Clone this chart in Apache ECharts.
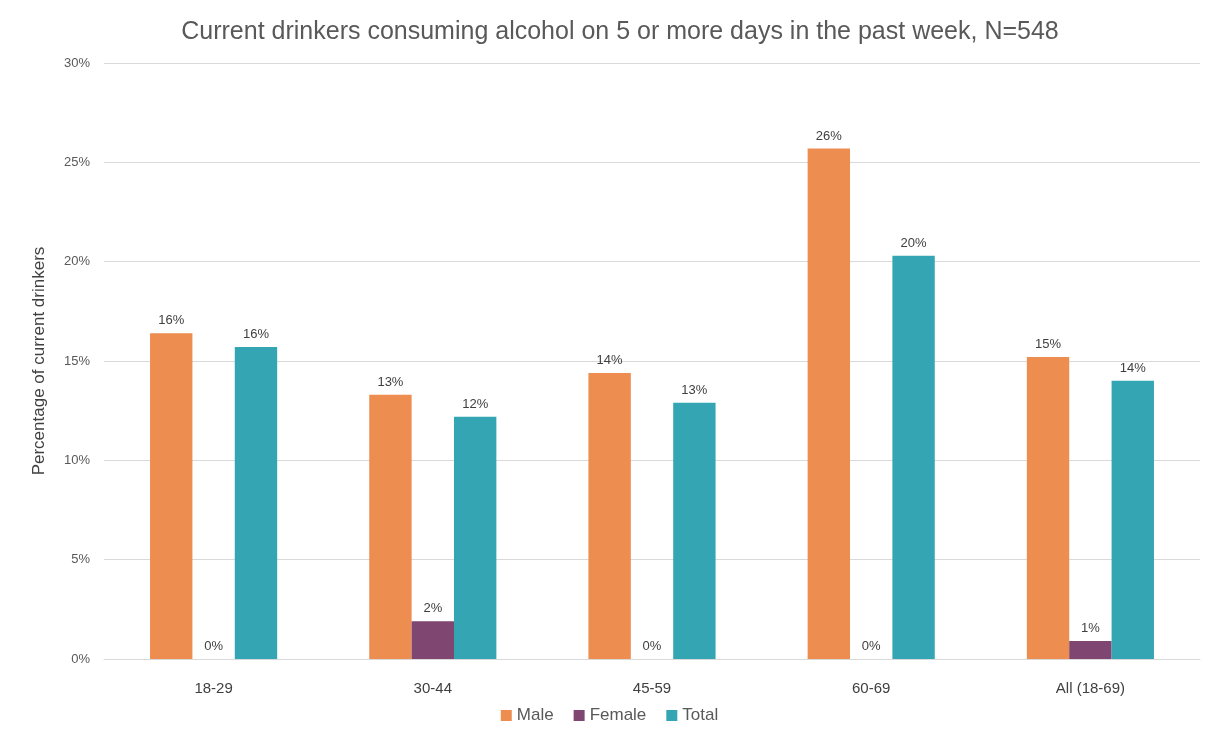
<!DOCTYPE html>
<html>
<head>
<meta charset="utf-8">
<script src="https://cdn.jsdelivr.net/npm/echarts@6/dist/echarts.min.js"></script>
<style>
  html, body { margin: 0; padding: 0; background: #fff; }
  #chart { width: 1219px; height: 739px; }
  .frame { position: absolute; left: 4px; top: 0; width: 2px; height: 739px; background: #d9d9d9; }
</style>
</head>
<body>
<div class="frame"></div>
<div id="chart"></div>
<script>
const ageGroups = ['18-29', '30-44', '45-59', '60-69', 'All (18-69)']
const maleValues = [16.4, 13.3, 14.4, 25.7, 15.2]
const femaleValues = [0, 1.9, 0, 0, 0.9]
const totalValues = [15.7, 12.2, 12.9, 20.3, 14.0]
const yTicks = [0, 5, 10, 15, 20, 25, 30]

const FONT = '"Liberation Sans", Arial, sans-serif'
const GREY = '#595959'

const chart = echarts.init(document.getElementById('chart'), null, { renderer: 'canvas' })

const barLabel = {
  show: true,
  position: 'top',
  distance: 6,
  color: '#404040',
  fontFamily: FONT,
  fontSize: 13,
  formatter: p => Math.round(p.value) + '%',
}

const option = {
  backgroundColor: '#fff',
  animation: false,
  title: {
    text: 'Current drinkers consuming alcohol on 5 or more days in the past week, N=548',
    left: 615,
    textAlign: 'center',
    top: 15,
    textStyle: { fontFamily: FONT, fontSize: 25, fontWeight: 'normal', color: GREY },
  },
  legend: {
    bottom: 10,
    left: 'center',
    itemWidth: 11,
    itemHeight: 11,
    itemGap: 20,
    icon: 'rect',
    textStyle: { fontFamily: FONT, fontSize: 17, color: GREY },
  },
  grid: { left: 104, right: 19, top: 63, bottom: 80, containLabel: false },
  xAxis: {
    type: 'category',
    data: ageGroups,
    axisLine: { lineStyle: { color: '#d9d9d9', width: 1 } },
    axisTick: { show: false },
    axisLabel: { fontFamily: FONT, fontSize: 15, color: '#404040', margin: 22 },
  },
  yAxis: {
    type: 'value',
    min: yTicks[0],
    max: yTicks[yTicks.length - 1],
    interval: 5,
    name: 'Percentage of current drinkers',
    nameLocation: 'middle',
    nameGap: 56,
    nameTextStyle: { fontFamily: FONT, fontSize: 17, color: '#404040' },
    axisLine: { show: false },
    axisTick: { show: false },
    axisLabel: { fontFamily: FONT, fontSize: 13, color: GREY, margin: 14, formatter: v => v + '%' },
    splitLine: { lineStyle: { color: '#d9d9d9', width: 1 } },
  },
  series: [
    { name: 'Male', type: 'bar', data: maleValues, barGap: '0%', barCategoryGap: '42%',
      itemStyle: { color: '#ED8D50' }, label: barLabel },
    { name: 'Female', type: 'bar', data: femaleValues,
      itemStyle: { color: '#7E4670' }, label: barLabel },
    { name: 'Total', type: 'bar', data: totalValues,
      itemStyle: { color: '#34A6B3' }, label: barLabel },
  ],
}

chart.setOption(option)
</script>
</body>
</html>
